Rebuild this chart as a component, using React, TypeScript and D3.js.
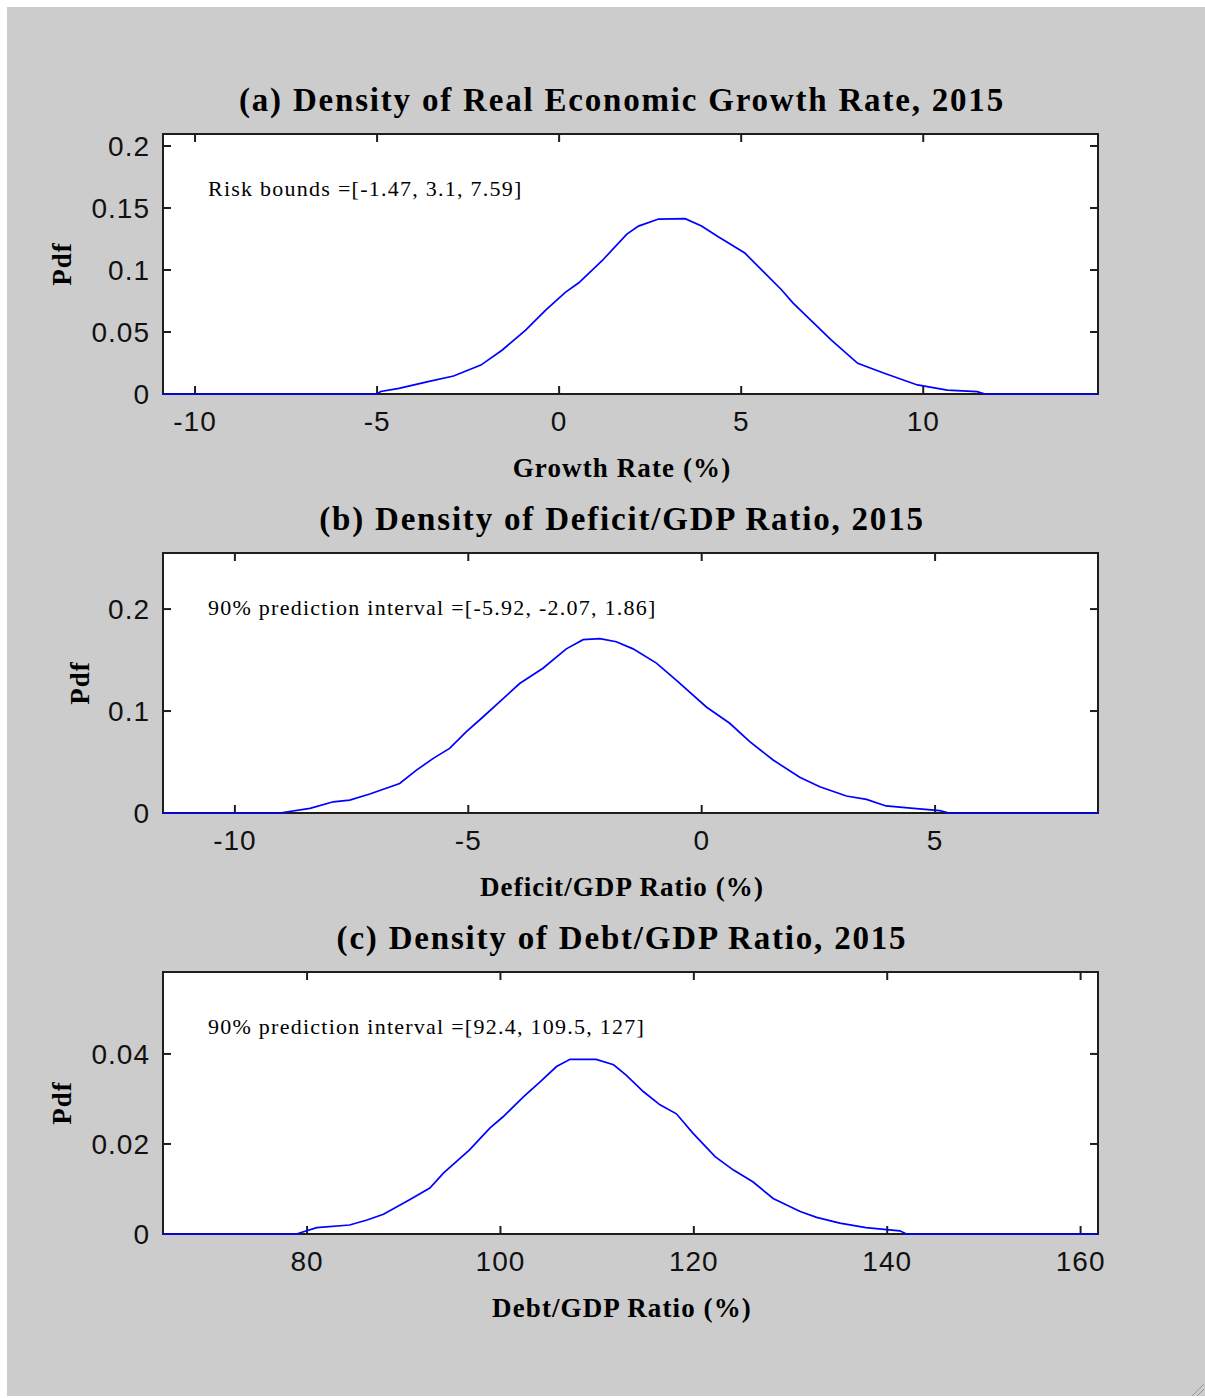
import React from "react";
import * as d3 from "d3";

// ---------- DATA ----------
const growthX = [-10.9, -5.0, -4.9, -4.4, -3.6, -2.9, -2.15, -1.56, -0.92, -0.37, 0.17, 0.54, 1.18, 1.86, 2.18, 2.73, 3.46, 3.91, 4.37, 5.1, 6.1, 6.42, 7.47, 8.2, 8.93, 9.84, 10.66, 11.48, 11.7, 14.8];
const growthY = [0, 0, 0.002, 0.0045, 0.01, 0.0145, 0.0233, 0.0355, 0.0516, 0.0677, 0.082, 0.0897, 0.1075, 0.129, 0.1354, 0.1411, 0.1414, 0.1355, 0.1268, 0.1137, 0.0843, 0.0735, 0.0436, 0.0247, 0.0167, 0.0073, 0.0032, 0.0019, 0, 0];
const growthXTicks = [-10, -5, 0, 5, 10];
const growthYTicks = [0, 0.05, 0.1, 0.15, 0.2];

const deficitX = [-11.55, -9.04, -8.39, -7.89, -7.54, -7.11, -6.47, -6.11, -5.75, -5.4, -5.04, -4.68, -4.33, -3.9, -3.4, -2.9, -2.54, -2.18, -1.83, -1.47, -0.97, -0.54, 0.1, 0.6, 1.03, 1.53, 2.1, 2.53, 3.1, 3.53, 3.95, 4.6, 5.1, 5.3, 8.5];
const deficitY = [0, 0, 0.0046, 0.011, 0.0127, 0.0186, 0.029, 0.042, 0.0536, 0.0634, 0.0797, 0.0944, 0.109, 0.127, 0.142, 0.161, 0.17, 0.171, 0.168, 0.161, 0.147, 0.13, 0.104, 0.088, 0.07, 0.052, 0.035, 0.0258, 0.0167, 0.0134, 0.0069, 0.0042, 0.0023, 0, 0];
const deficitXTicks = [-10, -5, 0, 5];
const deficitYTicks = [0, 0.1, 0.2];

const debtX = [65.1, 78.9, 81.0, 84.4, 86.2, 87.9, 90.6, 92.7, 94.1, 96.8, 98.9, 100.3, 102.4, 104.1, 105.8, 107.2, 109.9, 111.7, 113.0, 114.8, 116.5, 118.2, 119.9, 122.2, 124.1, 126.1, 128.2, 131.0, 132.7, 135.1, 137.8, 141.3, 142.0, 161.8];
const debtY = [0, 0, 0.0014, 0.002, 0.0031, 0.0044, 0.0076, 0.0102, 0.0135, 0.0187, 0.0235, 0.0261, 0.0305, 0.0338, 0.0372, 0.0388, 0.0388, 0.0376, 0.0353, 0.0316, 0.0287, 0.0267, 0.0224, 0.0172, 0.0142, 0.0116, 0.0079, 0.005, 0.0037, 0.0024, 0.0014, 0.0007, 0, 0];
const debtXTicks = [80, 100, 120, 140, 160];
const debtYTicks = [0, 0.02, 0.04];

const titles = [
  "(a) Density of Real Economic Growth Rate, 2015",
  "(b) Density of Deficit/GDP Ratio, 2015",
  "(c) Density of Debt/GDP Ratio, 2015",
];
const xLabels = ["Growth Rate (%)", "Deficit/GDP Ratio (%)", "Debt/GDP Ratio (%)"];
const annotations = [
  "Risk bounds =[-1.47, 3.1, 7.59]",
  "90% prediction interval =[-5.92, -2.07, 1.86]",
  "90% prediction interval =[92.4, 109.5, 127]",
];

// ---------- LAYOUT ----------
const W = 1205;
const H = 1398;
const LEFT = 163;
const RIGHT = 1098;
const TEXT_CX = 622;

const panels = [
  { xs: growthX, ys: growthY, xDomain: [-10.88, 14.8], yDomain: [0, 0.2097], xTicks: growthXTicks, yTicks: growthYTicks, top: 134, bottom: 394, yLabelX: 62 },
  { xs: deficitX, ys: deficitY, xDomain: [-11.54, 8.49], yDomain: [0, 0.255], xTicks: deficitXTicks, yTicks: deficitYTicks, top: 553, bottom: 813, yLabelX: 80 },
  { xs: debtX, ys: debtY, xDomain: [65.1, 161.8], yDomain: [0, 0.0582], xTicks: debtXTicks, yTicks: debtYTicks, top: 972, bottom: 1234, yLabelX: 62 },
];

const AX = "#1e1e1e";
const TICK = 8;
const SERIF = "'Liberation Serif', 'Times New Roman', serif";
const SANS = "'Liberation Sans', Arial, sans-serif";

function Panel({ p, i }: { p: any; i: number }) {
  const x = d3.scaleLinear().domain(p.xDomain).range([LEFT, RIGHT]);
  const y = d3.scaleLinear().domain(p.yDomain).range([p.bottom, p.top]);
  const pts: [number, number][] = p.xs.map((v: number, k: number) => [v, p.ys[k]]);
  const line = d3
    .line<[number, number]>()
    .x((d) => x(d[0]))
    .y((d) => y(d[1]));
  return (
    <g>
      <rect x={LEFT} y={p.top} width={RIGHT - LEFT} height={p.bottom - p.top} fill="#ffffff" />
      {p.xTicks.map((t: number) => (
        <g key={"xt" + t}>
          <line x1={x(t)} x2={x(t)} y1={p.bottom} y2={p.bottom - TICK} stroke={AX} strokeWidth={2} />
          <line x1={x(t)} x2={x(t)} y1={p.top} y2={p.top + TICK} stroke={AX} strokeWidth={2} />
          <text x={x(t)} y={p.bottom + 37} textAnchor="middle" fontFamily={SANS} fontSize={28} letterSpacing={1} fill="#111">
            {String(t)}
          </text>
        </g>
      ))}
      {p.yTicks.map((t: number) => (
        <g key={"yt" + t}>
          <line x1={LEFT} x2={LEFT + TICK} y1={y(t)} y2={y(t)} stroke={AX} strokeWidth={2} />
          <line x1={RIGHT} x2={RIGHT - TICK} y1={y(t)} y2={y(t)} stroke={AX} strokeWidth={2} />
          <text x={LEFT - 13} y={y(t)} dy="0.36em" textAnchor="end" fontFamily={SANS} fontSize={28} letterSpacing={1} fill="#111">
            {String(t)}
          </text>
        </g>
      ))}
      <rect x={LEFT} y={p.top} width={RIGHT - LEFT} height={p.bottom - p.top} fill="none" stroke={AX} strokeWidth={2} />
      <path d={line(pts) || ""} fill="none" stroke="#0000ff" strokeWidth={1.7} />
      <text x={208} y={p.top + 62} fontFamily={SERIF} fontSize={22} letterSpacing={1.25} fill="#000">
        {annotations[i]}
      </text>
      <text x={TEXT_CX} y={p.top - 23} textAnchor="middle" fontFamily={SERIF} fontWeight="bold" fontSize={33} letterSpacing={1.8} fill="#000">
        {titles[i]}
      </text>
      <text x={TEXT_CX} y={p.bottom + 83} textAnchor="middle" fontFamily={SERIF} fontWeight="bold" fontSize={27} letterSpacing={1.1} fill="#000">
        {xLabels[i]}
      </text>
      <text
        transform={`translate(${p.yLabelX},${(p.top + p.bottom) / 2}) rotate(-90)`}
        textAnchor="middle"
        dy="0.35em"
        fontFamily={SERIF}
        fontWeight="bold"
        fontSize={27}
        letterSpacing={1}
        fill="#000"
      >
        Pdf
      </text>
    </g>
  );
}

export default function App() {
  return (
    <div style={{ position: "absolute", left: 0, top: 0 }}>
      <svg width={W} height={H} style={{ display: "block" }}>
        <rect x={0} y={0} width={W} height={H} fill="#ffffff" />
        <rect x={7} y={7} width={W - 7} height={H - 9} fill="#cccccc" />
        {panels.map((p, i) => (
          <Panel key={i} p={p} i={i} />
        ))}
        <line x1={1192} y1={1396} x2={1204} y2={1384} stroke="#999" strokeWidth={1} />
        <line x1={1197} y1={1396} x2={1204} y2={1389} stroke="#999" strokeWidth={1} />
      </svg>
    </div>
  );
}
